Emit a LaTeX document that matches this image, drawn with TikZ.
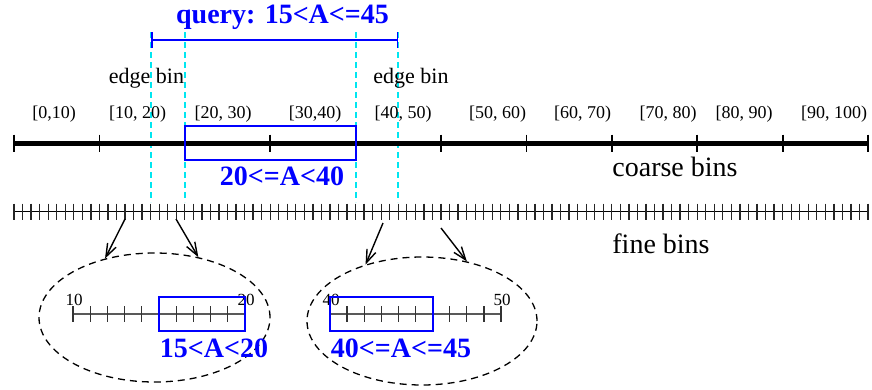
\documentclass[tikz,border=0pt]{standalone}
\usepackage{fontspec}
\setmainfont{Liberation Serif}
\usetikzlibrary{arrows.meta,shapes.geometric}
\definecolor{guidecyan}{RGB}{0,230,240}
\definecolor{selblue}{RGB}{0,0,255}
\begin{document}
\begin{tikzpicture}[x=1pt,y=-1pt]
\tikzset{binlbl/.style={inner sep=0pt,anchor=base,font=\fontsize{18}{18}\selectfont},
  edgelbl/.style={inner sep=0pt,anchor=base,font=\fontsize{22}{22}\selectfont},
  axlbl/.style={inner sep=0pt,anchor=base,font=\fontsize{28}{28}\selectfont},
  numlbl/.style={inner sep=0pt,anchor=base,font=\fontsize{17}{17}\selectfont},
  rangelbl/.style={inner sep=0pt,anchor=base,text=selblue,font=\fontsize{28}{28}\selectfont\bfseries},
  guide/.style={guidecyan,line width=1.3pt,dash pattern=on 6pt off 4pt},
  zoomed/.style={draw,ellipse,line width=1.3pt,dash pattern=on 7pt off 5pt,minimum width=231pt,minimum height=129pt,inner sep=0pt},
  sel/.style={draw=selblue,line width=1.7pt},
  tick/.style={line width=1.3pt},
  zoomarrow/.style={line width=1.4pt,solid,-{Straight Barb[angle'=40,length=13pt,line width=1.4pt]}}}
\useasboundingbox (0,0) rectangle (872,389);
% query range
\foreach \x in {151,185,356,398}{\draw[guide] (\x,32) -- (\x,202);}
\coordinate (qa) at (151,40);
\coordinate (qb) at (398,40);
\draw[selblue,line width=1.5pt,{Bar[width=16pt]}-{Bar[width=16pt]}] (qa) -- (qb);
\node[rangelbl] (query) at (282.5,23) {query: 15<A<=45};
\node[edgelbl] (edgeL) at (146.5,83) {edge bin};
\node[edgelbl] (edgeR) at (411,83) {edge bin};
% coarse bins
\draw[line width=5pt] (14,143) -- (868,143);
\foreach \i in {0,...,10}{\draw[tick,line width=1.8pt] ({14+85.4*\i},134.5) -- ++(0,17);}
\foreach \t/\x in {{[0,10)}/54,{[10, 20)}/137.5,{[20, 30)}/223,{[30,40)}/315,{[40, 50)}/403,{[50, 60)}/497.5,{[60, 70)}/582.5,{[70, 80)}/668,{[80, 90)}/744,{[90, 100)}/834}{\node[binlbl] at (\x,118) {\t};}
\draw[sel] (185,126) rectangle (356,160);
\node[rangelbl] (mid) at (282,185) {20<=A<40};
\node[axlbl] (coarse) at (675,176) {coarse bins};
% fine bins
\draw[tick,line width=1.8pt] (14,211.5) -- (868,211.5);
\foreach \i in {0,...,100}{\draw[tick,black!85] ({14+8.54*\i},203.5) -- ++(0,16);}
\node[axlbl] (fine) at (661,253) {fine bins};
% zoomed edge bins
\node[zoomed] (zl) at (154.5,317.5) {};
\node[zoomed,minimum width=230pt,minimum height=128pt] (zr) at (422,321) {};
\draw[tick,black!65] (73,314) -- (245,314);
\foreach \i in {0,...,10}{\draw[tick,black!80] ({73+17.2*\i},306) -- ++(0,16);}
\node[numlbl] (l10) at (74,305) {10};
\node[numlbl] (l20) at (246,305) {20};
\draw[sel] (159,297) rectangle (245,331);
\node[rangelbl] (lo) at (214,357) {15<A<20};
\draw[tick,black!65] (330,314) -- (501,314);
\foreach \i in {0,...,10}{\draw[tick,black!80] ({330+17.1*\i},306) -- ++(0,16);}
\node[numlbl] (l40) at (331,305) {40};
\node[numlbl] (l50) at (502,305) {50};
\draw[sel] (330,297) rectangle (433,331);
\node[rangelbl] (hi) at (401,357) {40<=A<=45};
% arrows
\coordinate (f1) at (125,219);
\coordinate (f2) at (176,219);
\coordinate (f3) at (383,223);
\coordinate (f4) at (441,228);
\draw[zoomarrow] (f1) -- (zl.130);
\draw[zoomarrow] (f2) -- (zl.54);
\draw[zoomarrow] (f3) -- (zr.135);
\draw[zoomarrow] (f4) -- (zr.53);
\end{tikzpicture}
\end{document}
